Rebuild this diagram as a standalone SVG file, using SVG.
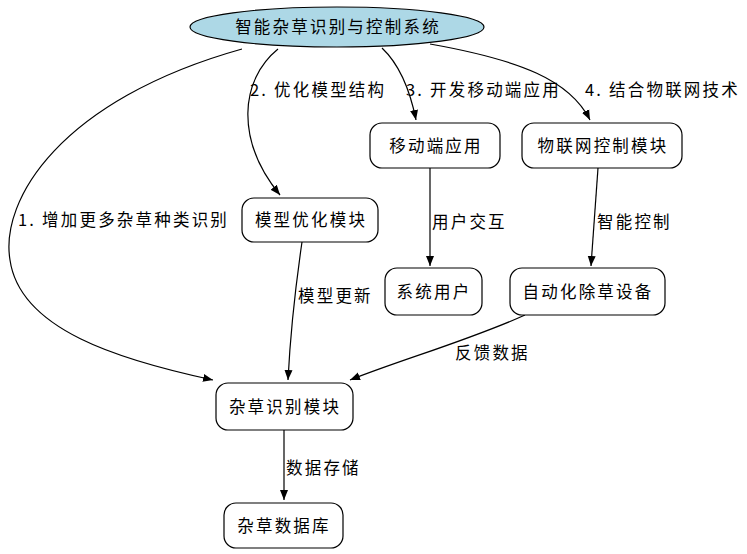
<svg xmlns="http://www.w3.org/2000/svg" width="747" height="554" viewBox="0 0 747 554">
<style>
text{font-family:"Noto Sans CJK SC","DejaVu Sans",sans-serif;font-size:16.5px;letter-spacing:2.2px;fill:#000}
.n rect{fill:#fff;stroke:#000;stroke-width:1.2}
.n text{text-anchor:middle}
.e path{fill:none;stroke:#000;stroke-width:1.2}
</style>
<defs><marker id="a" viewBox="0 0 10 10" refX="10" refY="5" markerWidth="10" markerHeight="10" markerUnits="userSpaceOnUse" orient="auto"><path d="M0,1 L10,5 L0,9 z" fill="#000"/></marker></defs>
<rect width="747" height="554" fill="#fff"/>
<g class="e">
<path d="M242,49 C60,100 0,200 10,260 C20,330 120,360 213,380" marker-end="url(#a)"/>
<path d="M278,49 C240,80 235,140 280,195" marker-end="url(#a)"/>
<path d="M382,48 C400,65 410,90 416,120" marker-end="url(#a)"/>
<path d="M430,44 C520,60 570,80 590,120" marker-end="url(#a)"/>
<path d="M430,168 L430,266" marker-end="url(#a)"/>
<path d="M598,168 L591,266" marker-end="url(#a)"/>
<path d="M302,242 C295,290 290,340 288,380" marker-end="url(#a)"/>
<path d="M525,315 C470,340 400,360 350,380" marker-end="url(#a)"/>
<path d="M284,430 L284,500" marker-end="url(#a)"/>
<text x="18" y="226">1. 增加更多杂草种类识别</text>
<text x="250" y="96">2. 优化模型结构</text>
<text x="406" y="96">3. 开发移动端应用</text>
<text x="585" y="96">4. 结合物联网技术</text>
<text x="432" y="228">用户交互</text>
<text x="597" y="228">智能控制</text>
<text x="298" y="302">模型更新</text>
<text x="455" y="359">反馈数据</text>
<text x="286" y="474">数据存储</text>
</g>
<g id="root" class="n"><ellipse cx="337" cy="27" rx="147" ry="20" fill="#add8e6" stroke="#000" stroke-width="1.2"/><text x="338" y="33">智能杂草识别与控制系统</text></g>
<g id="mobile" class="n"><rect x="370" y="123" width="130" height="45" rx="12"/><text x="436" y="152">移动端应用</text></g>
<g id="iot" class="n"><rect x="522" y="123" width="160" height="45" rx="12"/><text x="603" y="152">物联网控制模块</text></g>
<g id="opt" class="n"><rect x="242" y="198" width="136" height="44" rx="12"/><text x="311" y="226">模型优化模块</text></g>
<g id="user" class="n"><rect x="385" y="268" width="97" height="47" rx="12"/><text x="434" y="298">系统用户</text></g>
<g id="device" class="n"><rect x="510" y="268" width="155" height="47" rx="12"/><text x="588" y="298">自动化除草设备</text></g>
<g id="recog" class="n"><rect x="216" y="383" width="137" height="47" rx="12"/><text x="285" y="413">杂草识别模块</text></g>
<g id="db" class="n"><rect x="224" y="503" width="119" height="45" rx="12"/><text x="284" y="532">杂草数据库</text></g>
</svg>
